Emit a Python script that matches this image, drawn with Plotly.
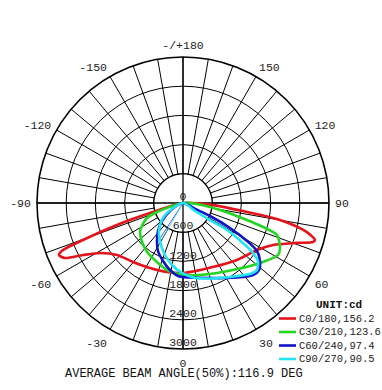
import numpy as np
import plotly.graph_objects as go

# ---- data (theta in degrees, r in cd) ----
RED_THETA = [-90, -73, -71.6, -69.7, -68.6, -67.3, -65, -62.5, -58.9, -51.8, -40.3, -26.9, -13, 0,
             25, 43.5, 57.6, 65, 70.7, 73.3, 74.3, 76.8, 80.1, 82, 86, 90]
RED_R = [0, 709, 1430, 2191, 2648, 2763, 2675, 2316, 1991, 1726, 1589, 1498, 1455, 1438,
         1452, 1613, 1801, 2041, 2482, 2789, 2817, 2616, 2024, 1328, 618, 0]

GREEN_THETA = [-90, -70.9, -67.4, -59.2, -56, -46.4, -36.3, -23.8, -13.4, 0, 13.3, 36.7, 53.6,
               61.3, 65.1, 71.2, 73.3, 75.1, 79.3, 85.9, 90]
GREEN_R = [0, 565, 801, 1004, 1066, 1162, 1249, 1325, 1415, 1479, 1520, 1718, 2042,
           2225, 2197, 2040, 1716, 1360, 774, 289, 0]

BLUE_THETA = [-60, -58.4, -49.4, -41.8, -34.4, -27.5, -19, -11, -3.9, 0, 19.8, 30.4, 39, 44.2,
              48.6, 53, 57, 59.3, 62, 64.3, 64, 65]
BLUE_R = [0, 314, 568, 771, 946, 1112, 1260, 1402, 1503, 1521, 1638, 1787, 1957, 2063,
          2082, 1981, 1812, 1530, 1094, 616, 276, 0]

CYAN_THETA = [-58, -56.3, -46.3, -36.9, -27.6, -19.1, -10.1, -0.8, 9.1, 26.3, 36.5, 43.3, 47.8,
              52.3, 54.5, 56.3, 58.5, 57.8, 56.3, 56]
CYAN_R = [0, 445, 654, 822, 974, 1131, 1294, 1438, 1561, 1718, 1866, 2006, 2051,
          1948, 1767, 1481, 1060, 656, 296, 0]

# thin spikes near the C60/C90 curves
SPIKE_THETA = [-33, -30]
SPIKE_R = [900, 850]

SERIES = ["C0/180,156.2", "C30/210,123.6", "C60/240,97.4", "C90/270,90.5"]
COLORS = ["#e3141b", "#22d622", "#1212c8", "#22e4f2"]

RADIAL_TICKS = [0, 600, 1200, 1800, 2400, 3000]
RADIAL_LABELS = ["0", "600", "1200", "1800", "2400", "3000"]
ANG_TICKS = list(range(0, 360, 10))
ANG_LABELS = {0: "0", 30: "30", 60: "60", 90: "90", 120: "120", 150: "150", 180: "-/+180",
              210: "-150", 240: "-120", 270: "-90", 300: "-60", 330: "-30"}
TITLE = "AVERAGE BEAM ANGLE(50%):116.9 DEG"
UNIT = "UNIT:cd"

FONT = "Liberation Mono"
W, H = 382, 390
CX, CY, R = 183, 203, 146

fig = go.Figure()

# inner white disk (hides spokes inside 600 circle)
circ = np.linspace(0, 360, 181)
fig.add_trace(go.Scatterpolar(theta=circ, r=[600] * len(circ), mode="lines", fill="toself",
                              fillcolor="white", line=dict(color="black", width=1.3),
                              hoverinfo="skip", showlegend=False))
# main cross lines through the centre
fig.add_trace(go.Scatterpolar(theta=[0, 0, 180], r=[3000, 0, 3000], mode="lines",
                              line=dict(color="black", width=1.3), hoverinfo="skip", showlegend=False))
fig.add_trace(go.Scatterpolar(theta=[90, 90, 270], r=[3000, 0, 3000], mode="lines",
                              line=dict(color="black", width=1.3), hoverinfo="skip", showlegend=False))
# radial labels
fig.add_trace(go.Scatterpolar(theta=[0] * len(RADIAL_TICKS), r=RADIAL_TICKS, mode="text",
                              text=RADIAL_LABELS, textposition="top center",
                              textfont=dict(family=FONT, size=11.5, color="#222"),
                              hoverinfo="skip", showlegend=False))

# thin spikes
for th, rr, c in zip(SPIKE_THETA, SPIKE_R, [COLORS[2], COLORS[3]]):
    fig.add_trace(go.Scatterpolar(theta=[th, th], r=[0, rr], mode="lines",
                                  line=dict(color=c, width=0.7), hoverinfo="skip", showlegend=False))

for name, th, rr, c in zip(SERIES, [RED_THETA, GREEN_THETA, BLUE_THETA, CYAN_THETA],
                           [RED_R, GREEN_R, BLUE_R, CYAN_R], COLORS):
    fig.add_trace(go.Scatterpolar(theta=th, r=rr, mode="lines", name=name,
                                  line=dict(color=c, width=2.6, shape="spline", smoothing=0.8),
                                  showlegend=False))

fig.update_layout(
    width=W, height=H,
    margin=dict(l=0, r=0, t=0, b=0),
    paper_bgcolor="white",
    showlegend=False,
    polar=dict(
        domain=dict(x=[(CX - R) / W, (CX + R) / W], y=[(H - CY - R) / H, (H - CY + R) / H]),
        bgcolor="white",
        radialaxis=dict(range=[0, 3000], tickvals=RADIAL_TICKS[1:], showticklabels=False,
                        ticks="", showline=False, showgrid=True, gridcolor="black", gridwidth=1.3),
        angularaxis=dict(rotation=-90, direction="counterclockwise",
                         tickvals=ANG_TICKS, ticktext=[ANG_LABELS.get(t, "") for t in ANG_TICKS],
                         ticks="outside", ticklen=3, tickcolor="rgba(0,0,0,0)",
                         tickfont=dict(family=FONT, size=11.5, color="#222"),
                         showline=True, linecolor="black", linewidth=1.6,
                         showgrid=True, gridcolor="black", gridwidth=1.3),
    ),
)

# custom legend
leg_y = [318.5, 332, 345.5, 359]
for name, c, y in zip(SERIES, COLORS, leg_y):
    fig.add_shape(type="line", xref="paper", yref="paper", x0=279 / W, x1=296 / W,
                  y0=1 - y / H, y1=1 - y / H, line=dict(color=c, width=2.6))
    fig.add_annotation(x=297 / W, y=1 - y / H, xref="paper", yref="paper", text=name,
                       showarrow=False, xanchor="left", yanchor="middle",
                       font=dict(family=FONT, size=10.5, color="#222"))
fig.add_annotation(x=338.5 / W, y=1 - 305 / H, xref="paper", yref="paper", text="<b>" + UNIT + "</b>",
                   showarrow=False, xanchor="center", yanchor="middle",
                   font=dict(family=FONT, size=11, color="#111"))
fig.add_annotation(x=183.7 / W, y=1 - 374 / H, xref="paper", yref="paper", text=TITLE,
                   showarrow=False, xanchor="center", yanchor="middle", borderpad=0,
                   font=dict(family=FONT, size=12, color="#111"))

fig.write_html("out.html", config={"displayModeBar": False},
               post_script="document.body.style.margin='0';document.body.style.overflow='hidden';")
